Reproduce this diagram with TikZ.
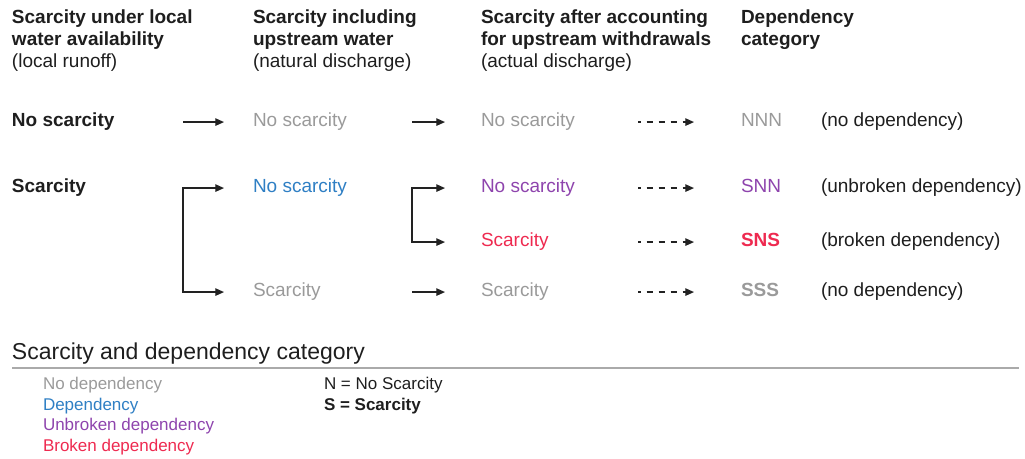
\documentclass[tikz,border=0pt]{standalone}
\usepackage{fontspec}
\setmainfont{Liberation Sans}
\usetikzlibrary{arrows.meta}
\definecolor{ink}{HTML}{1E1E1E}
\definecolor{lightgray}{HTML}{9A9A9A}
\definecolor{depblue}{HTML}{2F7FC4}
\definecolor{unbpurple}{HTML}{8E44AD}
\definecolor{brkred}{HTML}{EE2A50}
\definecolor{rulegray}{HTML}{AAAAAA}
\definecolor{arrowink}{HTML}{222222}
\begin{document}
\begin{tikzpicture}[x=0.75pt,y=-0.75pt,
  every node/.style={inner sep=0pt,outer sep=0pt,anchor=base west},
  head/.style={align=left,text=ink,font=\fontsize{14.25pt}{16.5pt}\selectfont\bfseries},
  cell/.style={text=ink,font=\fontsize{14.25pt}{16.5pt}\selectfont,text height=10.4pt,text depth=3pt},
  strong/.style={font=\fontsize{14.25pt}{16.5pt}\selectfont\bfseries},
  legend/.style={font=\fontsize{12.75pt}{15.4pt}\selectfont},
  arr/.style={draw=arrowink,line width=0.85pt,-{Triangle[length=6.5pt,width=5.6pt]}},
  dasharr/.style={arr,dash pattern=on 4.5pt off 4.5pt,dash phase=2.5pt},
  bracketarr/.style={draw=arrowink,line width=0.85pt,{Triangle[length=6.5pt,width=5.6pt]}-{Triangle[length=6.5pt,width=5.6pt]}}
]
\useasboundingbox (0,0) rectangle (1025,459);

% headers (base anchor of a multi-line node is the last line's baseline)
\node[head] (h1) at (12,68) {Scarcity under local\\water availability\\\mdseries(local runoff)};
\node[head] (h2) at (253,68) {Scarcity including\\upstream water\\\mdseries(natural discharge)};
\node[head] (h3) at (481,68) {Scarcity after accounting\\for upstream withdrawals\\\mdseries(actual discharge)};
\node[head] (h4) at (741,46) {Dependency\\category};

% row 1
\node[cell,strong] (a1) at (12,127) {No scarcity};
\node[cell,text=lightgray] (b1) at (253,127) {No scarcity};
\node[cell,text=lightgray] (c1) at (481,127) {No scarcity};
\node[cell,text=lightgray] (d1) at (741,127) {NNN};
\node[cell] (e1) at (821,127) {(no dependency)};

% row 2
\node[cell,strong] (a2) at (12,193) {Scarcity};
\node[cell,text=depblue] (b2) at (253,193) {No scarcity};
\node[cell,text=unbpurple] (c2) at (481,193) {No scarcity};
\node[cell,text=unbpurple] (d2) at (741,193) {SNN};
\node[cell] (e2) at (821,193) {(unbroken dependency)};

% row 3
\node[cell,text=brkred] (c3) at (481,247) {Scarcity};
\node[cell,strong,text=brkred] (d3) at (741,247) {SNS};
\node[cell] (e3) at (821,247) {(broken dependency)};

% row 4
\node[cell,text=lightgray] (b4) at (253,297) {Scarcity};
\node[cell,text=lightgray] (c4) at (481,297) {Scarcity};
\node[cell,strong,text=lightgray] (d4) at (741,297) {SSS};
\node[cell] (e4) at (821,297) {(no dependency)};

% arrows column 1 -> 2
\draw[arr] (183,0 |- b1.west) -- (224,0 |- b1.west);
\draw[bracketarr] (224,0 |- b2.west) -- (183,0 |- b2.west) -- (183,0 |- b4.west) -- (224,0 |- b4.west);

% arrows column 2 -> 3
\draw[arr] (412,0 |- c1.west) -- (445,0 |- c1.west);
\draw[bracketarr] (445,0 |- c2.west) -- (412,0 |- c2.west) -- (412,0 |- c3.west) -- (445,0 |- c3.west);
\draw[arr] (412,0 |- c4.west) -- (445,0 |- c4.west);

% dashed arrows column 3 -> 4
\draw[dasharr] (638,0 |- d1.west) -- (694,0 |- d1.west);
\draw[dasharr] (638,0 |- d2.west) -- (694,0 |- d2.west);
\draw[dasharr] (638,0 |- d3.west) -- (694,0 |- d3.west);
\draw[dasharr] (638,0 |- d4.west) -- (694,0 |- d4.west);

% legend
\node[text=ink,font=\fontsize{17.25pt}{20pt}\selectfont] (lt) at (12,359.5) {Scarcity and dependency category};
\coordinate (rl) at (12,368);
\coordinate (rr) at (1019,368);
\draw[rulegray,line width=1.5pt] (rl) -- (rr);

\node[legend,text=lightgray] (l1) at (43,390) {No dependency};
\node[legend,text=depblue] (l2) at (43,410.5) {Dependency};
\node[legend,text=unbpurple] (l3) at (43,431) {Unbroken dependency};
\node[legend,text=brkred] (l4) at (43,451.5) {Broken dependency};
\node[legend,text=ink] (k1) at (324,390) {N = No Scarcity};
\node[legend,text=ink,font=\fontsize{12.75pt}{15.4pt}\selectfont\bfseries] (k2) at (324,410.5) {S = Scarcity};
\end{tikzpicture}
\end{document}
